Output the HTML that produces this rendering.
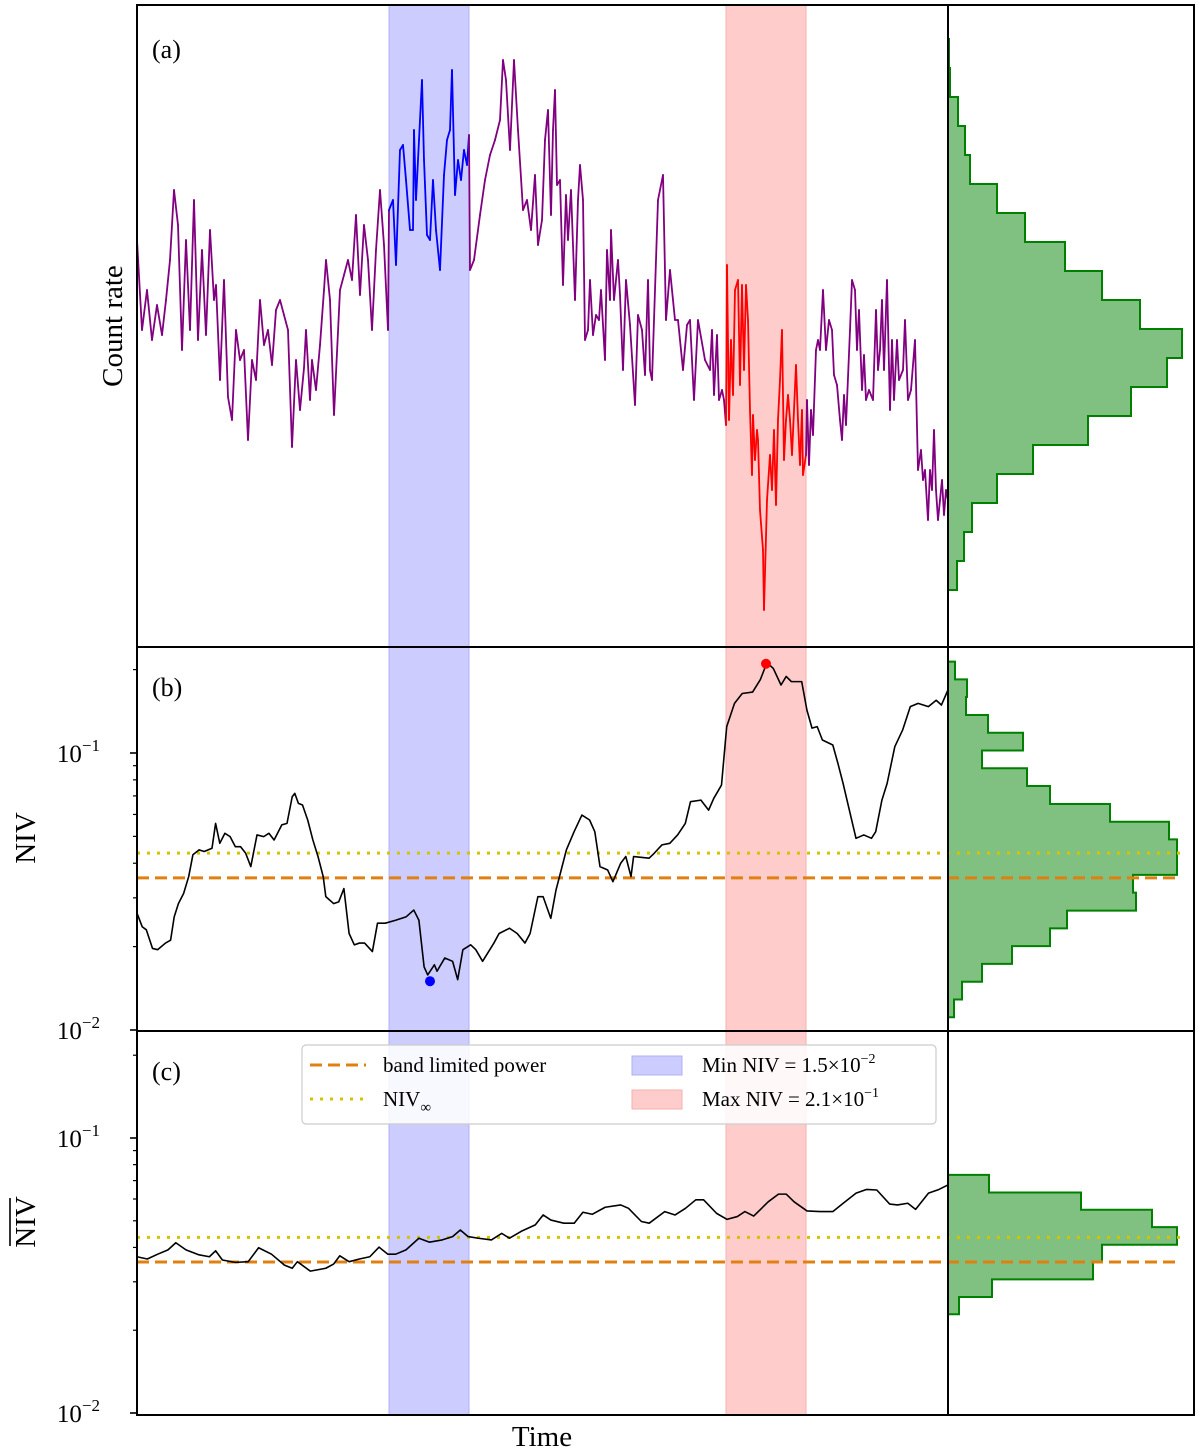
<!DOCTYPE html>
<html><head><meta charset="utf-8"><style>
html,body{margin:0;padding:0;background:#fff;}
svg{display:block;font-family:"Liberation Serif","DejaVu Serif",serif;}
</style></head><body>
<svg id="fig" width="1200" height="1454" viewBox="0 0 1200 1454" xmlns="http://www.w3.org/2000/svg"></svg>
<script>
// ---- data ----
const timeA=[0,5,10,15,20,25,29,33,37,41,45,49,53,57,61,65,69,73,77,79,83,87,91,95,99,103,107,111,115,119,123,127,131,135,139,143,147,151,155,159,163,167,169,173,175,179,183,187,189,193,197,203,207,211,215,219,223,227,231,235,239,243,247,251,
252,256,259,263,266,269,273,276,277,279,282,285,287,290,293,296,299,303,307,310,313,315,318,321,324,327,330,332,
333,337,343,348,353,358,363,366,369,373,377,381,386,390,394,398,401,405,408,411,414,416,418,420,423,426,429,431,434,438,441,443,446,448,451,453,456,459,462,464,468,470,473,474,477,481,483,486,489,493,498,501,505,508,511,513,515,521,526,529,533,538,541,546,550,553,557,561,568,573,575,577,580,582,585,587,589,
590,592,594,596,598,601,603,605,607,609,611,613,615,616,618,620,621,623,626,627,630,633,635,637,639,641,643,645,647,649,651,653,655,659,661,663,665,666,669,
670,672,674,676,679,681,683,686,689,692,695,697,700,703,705,707,709,713,715,718,720,722,725,727,729,732,736,739,741,743,745,747,750,753,755,757,760,762,766,768,771,774,778,781,784,786,788,791,793,795,797,799,801,803,805,807,809,811];
const countA=[407,317,357,307,342,312,347,387,457,422,297,407,317,447,307,397,312,417,347,362,267,367,250,227,317,287,297,207,287,267,347,302,317,282,337,347,332,317,200,287,237,279,317,247,287,257,302,357,387,347,232,357,372,387,367,432,352,422,387,317,397,457,402,317,
437,447,382,497,502,467,417,417,517,447,507,567,487,412,407,467,417,377,472,507,517,577,452,487,467,497,482,512,
377,387,432,467,492,507,527,587,567,497,587,517,437,447,417,472,402,427,507,537,432,517,557,462,467,362,452,407,457,347,447,482,447,307,317,367,312,332,327,357,287,397,347,417,347,387,352,277,367,322,242,332,317,272,367,277,267,447,472,327,377,327,327,277,322,327,247,327,287,277,317,252,312,247,257,247,222,
382,227,307,252,357,367,262,362,277,362,327,237,172,232,187,217,207,137,97,37,147,192,157,217,142,227,267,317,187,227,252,227,192,282,227,182,237,172,192,
247,182,237,212,297,307,297,357,297,327,317,272,262,227,207,252,222,317,367,357,297,337,257,292,247,257,247,337,277,297,347,277,367,237,307,247,307,267,277,327,247,257,307,177,197,167,177,127,177,157,217,157,127,147,167,132,157,147];
const timeB=[0,5.2,9.3,15.5,20.7,28.5,33.6,37.2,41.4,46.6,51.7,55.9,62.1,67.2,75,78.6,82.8,87.9,93.1,98.3,103.5,108.6,113.8,120,126.7,131.9,137.1,144.8,150,155.2,157.8,161.4,165.5,170.7,175.9,181,186.2,188.8,196.6,201.7,206.9,212.1,217.3,222.4,227.6,235.4,240.5,248.3,258.6,269,276.8,281.9,287.1,290.7,297.4,300,307.8,315.6,320.7,325.9,333.7,338.8,345.6,356.9,362.1,372.5,380.2,388,393.1,400.9,406.1,413.8,419,429.4,437.1,444.9,452.6,457.8,463,470.7,475.9,483.7,488.8,494,496.6,512.1,517.3,525,532.8,540.6,548.3,553.5,563.9,571.6,576.8,584.5,589.7,597.5,605.2,615.6,623.3,630,636.3,644,649.2,654.4,664.7,669.9,675,680.2,685.4,695.8,700.9,706.1,713.9,719,726.8,734.5,738.7,744.9,750.1,757.8,765.6,773.3,781.1,791.4,799.2,804.4,811];
const nivB=[0.0264,0.0236,0.0230,0.0197,0.0195,0.0206,0.0211,0.0256,0.0286,0.0311,0.0358,0.0429,0.0447,0.0441,0.0453,0.0557,0.0472,0.0513,0.0499,0.0459,0.0459,0.0435,0.0389,0.0506,0.0499,0.0513,0.0485,0.0550,0.0557,0.0695,0.0715,0.0658,0.0649,0.0573,0.0485,0.0423,0.0358,0.0303,0.0286,0.0290,0.0324,0.0223,0.0203,0.0206,0.0206,0.0192,0.0243,0.0243,0.0249,0.0256,0.0271,0.0249,0.0169,0.0158,0.0172,0.0163,0.0182,0.0177,0.0152,0.0195,0.0203,0.0195,0.0177,0.0206,0.0223,0.0233,0.0223,0.0206,0.0223,0.0303,0.0303,0.0253,0.0320,0.0447,0.0520,0.0597,0.0573,0.0520,0.0389,0.0378,0.0343,0.0400,0.0423,0.0358,0.0423,0.0417,0.0435,0.0466,0.0472,0.0506,0.0557,0.0667,0.0676,0.0622,0.0686,0.0766,0.1245,0.151,0.164,0.166,0.184,0.212,0.202,0.176,0.189,0.181,0.181,0.143,0.123,0.1245,0.1114,0.1069,0.0918,0.0776,0.0589,0.0492,0.0506,0.0492,0.0520,0.0676,0.0776,0.1054,0.121,0.147,0.151,0.147,0.155,0.149,0.169];
const timeC=[0,10.3,20.7,31,38.8,49,62,72.4,78.6,85.4,98.3,111.2,121.6,134.5,147.4,155.2,160.4,173.3,188.8,196.6,202.8,212.1,222.4,232.8,242,250.9,258.7,269,281.9,292.3,305.2,315.6,323.3,331.1,341.4,354.4,364.7,372.5,385.4,398.3,406.1,413.9,426.8,437.2,445.9,455.2,468.2,483.7,491.5,504.4,512.2,527.7,538.1,548.5,558.8,566.6,579.6,589.9,600.3,607.9,616.7,631.2,641.5,649.3,657.1,670,682.9,695.8,706.2,719.1,729.4,739.8,752.7,760.5,770.8,778.6,791.5,801.9,811];
const nivC=[0.0370,0.0363,0.0378,0.0392,0.0416,0.0392,0.0376,0.0370,0.0389,0.0360,0.0353,0.0355,0.0399,0.0378,0.0345,0.0336,0.0355,0.0328,0.0336,0.0348,0.0373,0.0355,0.0363,0.0370,0.0401,0.0378,0.0378,0.0392,0.0432,0.0418,0.0426,0.0438,0.0463,0.0438,0.0432,0.0426,0.0450,0.0432,0.0460,0.0483,0.0525,0.0503,0.0490,0.0490,0.0537,0.0528,0.0560,0.0571,0.0555,0.0497,0.0490,0.0540,0.0525,0.0555,0.0596,0.0596,0.0532,0.0506,0.0518,0.0540,0.0520,0.0586,0.0625,0.0625,0.0586,0.0543,0.0540,0.0540,0.0579,0.0630,0.0650,0.0647,0.0575,0.0571,0.0579,0.0550,0.0630,0.0650,0.0675];
const histAEdges=[57,86,115,144,173,202,231,260,289,318,347,376,405,434,463,492,521,550,579,608];
const histACounts=[9,16,24,49,85,140,183,219,234,192,154,117,77,49,22,17,10,2,1];
const histBEdges=[0.01112,0.01288,0.01493,0.01733,0.02009,0.02328,0.02698,0.03133,0.03631,0.04207,0.04875,0.05649,0.06546,0.07603,0.0881,0.1021,0.1183,0.1371,0.1592,0.1845,0.2138];
const histBCounts=[6,14,34,64,102,119,188,185,229,229,221,162,102,79,34,75,40,18,19,7];
const histCEdges=[0.02286,0.02642,0.03062,0.03540,0.04093,0.04742,0.05483,0.06339,0.07345];
const histCCounts=[11,44,145,154,229,204,133,41];
const bandMin=[252,332];
const bandMax=[589,669];
const bandLimitedPower=[0.0354];
const nivInf=[0.0435];
const minPoint=[293,0.0150];
const maxPoint=[629,0.21];
const tickExps=[-1,-2];

// ---- scales ----
const X0=137,X1=948,XH1=1194;
const xT=t=>X0+t*(X1-X0)/811;
const yA=c=>647-c;
const yB=v=>753-277*(Math.log10(v)+1);
const yC=v=>1138-275*(Math.log10(v)+1);
const xH=n=>948+n;

const NS="http://www.w3.org/2000/svg";
const svg=document.getElementById('fig');
function mk(tag,attrs,parent){const e=document.createElementNS(NS,tag);for(const k in attrs)e.setAttribute(k,attrs[k]);(parent||svg).appendChild(e);return e;}

// bands
[[bandMin,'#ccccff','#b0b0f5','min-niv-band'],[bandMax,'#ffcccc','#f5b0b0','max-niv-band']].forEach(([b,f,s,n],i)=>{
  [[5,647],[647,1031],[1031,1415]].forEach(([a,z],j)=>{
    const r=mk('rect',{x:xT(b[0]),y:a,width:xT(b[1])-xT(b[0]),height:z-a,fill:f,stroke:s,'stroke-width':1});
    
    
  });
});

// histogram helper
function hist(edges,counts,yf,name){
  let d='M948,'+yf(edges[0]);
  for(let i=0;i<counts.length;i++){d+=' L'+xH(counts[i])+','+yf(edges[i])+' L'+xH(counts[i])+','+yf(edges[i+1]);}
  d+=' L948,'+yf(edges[edges.length-1])+' Z';
  const p=mk('path',{d:d,fill:'#80c080',stroke:'#008000','stroke-width':2});
  
  
}
hist(histAEdges,histACounts,yA,'count-rate-histogram');
hist(histBEdges,histBCounts,yB,'niv-histogram');
hist(histCEdges,histCCounts,yC,'mean-niv-histogram');

// panel a line
for(let i=0;i<timeA.length-1;i++){
  const t0=timeA[i],t1=timeA[i+1];
  let col='#800080';
  if(t0>=bandMin[0]&&t1<=bandMin[1])col='#0000ff';
  if(t0>=bandMax[0]&&t1<=bandMax[1])col='#ff0000';
  const l=mk('line',{x1:xT(t0),y1:yA(countA[i]),x2:xT(t1),y2:yA(countA[i+1]),stroke:col,'stroke-width':1.8,'stroke-linecap':'round'});
  
  
}

// ref lines
function hline(v,yf,name,dash,col){
  const l=mk('line',{x1:X0,x2:1181,y1:yf(v),y2:yf(v),stroke:col,'stroke-width':3,'stroke-dasharray':dash});
  
  
}
hline(nivInf[0],yB,'niv-inf-line-b','3 7','#d4c400');
hline(bandLimitedPower[0],yB,'band-power-line-b','12 6','#e08010');
hline(nivInf[0],yC,'niv-inf-line-c','3 7','#d4c400');
hline(bandLimitedPower[0],yC,'band-power-line-c','12 6','#e08010');

function pline(ts,vs,yf,name){
  const p=mk('polyline',{points:ts.map((t,i)=>xT(t)+','+yf(vs[i])).join(' '),fill:'none',stroke:'#000','stroke-width':1.6,'stroke-linejoin':'round'});
  
  
}
pline(timeB,nivB,yB,'niv-line');
pline(timeC,nivC,yC,'mean-niv-line');
const mn=mk('circle',{cx:xT(minPoint[0]),cy:yB(minPoint[1]),r:5,fill:'#0000ff'});


const mx=mk('circle',{cx:xT(maxPoint[0]),cy:yB(maxPoint[1]),r:5,fill:'#ff0000'});



// frames
[[137,5,1194,647],[137,647,1194,1031],[137,1031,1194,1415]].forEach(([a,b,c,d],i)=>{
  const r=mk('rect',{x:a,y:b,width:c-a,height:d-b,fill:'none',stroke:'#000','stroke-width':2});
  
  
});
const vl=mk('line',{x1:948,x2:948,y1:5,y2:1415,stroke:'#000','stroke-width':2});



// log ticks
function logTicks(yf,top,bot,name){
  for(let e=-3;e<=0;e++){for(let m=1;m<10;m++){
    const v=m*Math.pow(10,e),y=yf(v);
    if(y<top-0.5||y>bot+0.5)continue;
    const len=m===1?7:4;
    const t=mk('line',{x1:X0-len,x2:X0,y1:y,y2:y,stroke:'#000','stroke-width':m===1?1.6:1.2});
    
    
  }}
  tickExps.forEach(e=>{
    const y=yf(Math.pow(10,e));
    const tx=mk('text',{x:100,y:y+9,'text-anchor':'end','font-size':25,fill:'#000'});
    
    
    const a=mk('tspan',{},tx);a.textContent='10';
    const b=mk('tspan',{dy:-11,'font-size':17},tx);b.textContent='\u2212'+(-e);
  });
}
logTicks(yB,647,1031,'niv-axis');
logTicks(yC,1031,1415,'mean-niv-axis');

function txt(x,y,s,size,name,extra){
  const t=mk('text',Object.assign({x:x,y:y,'font-size':size,fill:'#000'},extra||{}));
  t.textContent=s;
  
  
  return t;
}
txt(152,58,'(a)',26,'panel-a-label');
txt(152,696,'(b)',26,'panel-b-label');
txt(152,1080,'(c)',26,'panel-c-label');
txt(122,326,'Count rate',29,'count-rate-axis-title',{'text-anchor':'middle',transform:'rotate(-90 122 326)'});
txt(35,838,'NIV',29,'niv-axis-title',{'text-anchor':'middle',transform:'rotate(-90 35 838)'});
txt(35,1222,'NIV',29,'mean-niv-axis-title',{'text-anchor':'middle',transform:'rotate(-90 35 1222)'});
const ov=mk('line',{x1:10,x2:10,y1:1198,y2:1246,stroke:'#000','stroke-width':1.6});


txt(542,1446,'Time',29,'time-axis-title',{'text-anchor':'middle'});

// legend
const lg=mk('g',{});


mk('rect',{x:302,y:1045,width:634,height:79,rx:4,fill:'#fff','fill-opacity':0.85,stroke:'#ccc','stroke-width':1.2},lg);
const l1=mk('line',{x1:310,x2:366,y1:1065,y2:1065,stroke:'#e08010','stroke-width':3,'stroke-dasharray':'12 6'},lg);


const l2=mk('line',{x1:310,x2:366,y1:1099,y2:1099,stroke:'#d4c400','stroke-width':3,'stroke-dasharray':'3 7'},lg);


const l3=mk('rect',{x:632,y:1056,width:50,height:19,fill:'#ccccff',stroke:'#b0b0f5'},lg);


const l4=mk('rect',{x:632,y:1090,width:50,height:19,fill:'#ffcccc',stroke:'#f5b0b0'},lg);


txt(383,1072,'band limited power',21,'legend-band-power-label');
const ni=txt(383,1106,'NIV',21,'legend-niv-inf-label');
const ns=mk('tspan',{dy:6,'font-size':15},ni);ns.textContent='\u221e';
const m1=txt(702,1072,'Min NIV = 1.5\u00d710',21,'legend-min-label');
const m1s=mk('tspan',{dy:-9,'font-size':14},m1);m1s.textContent='\u22122';
const m2=txt(702,1106,'Max NIV = 2.1\u00d710',21,'legend-max-label');
const m2s=mk('tspan',{dy:-9,'font-size':14},m2);m2s.textContent='\u22121';
</script>
</body></html>
